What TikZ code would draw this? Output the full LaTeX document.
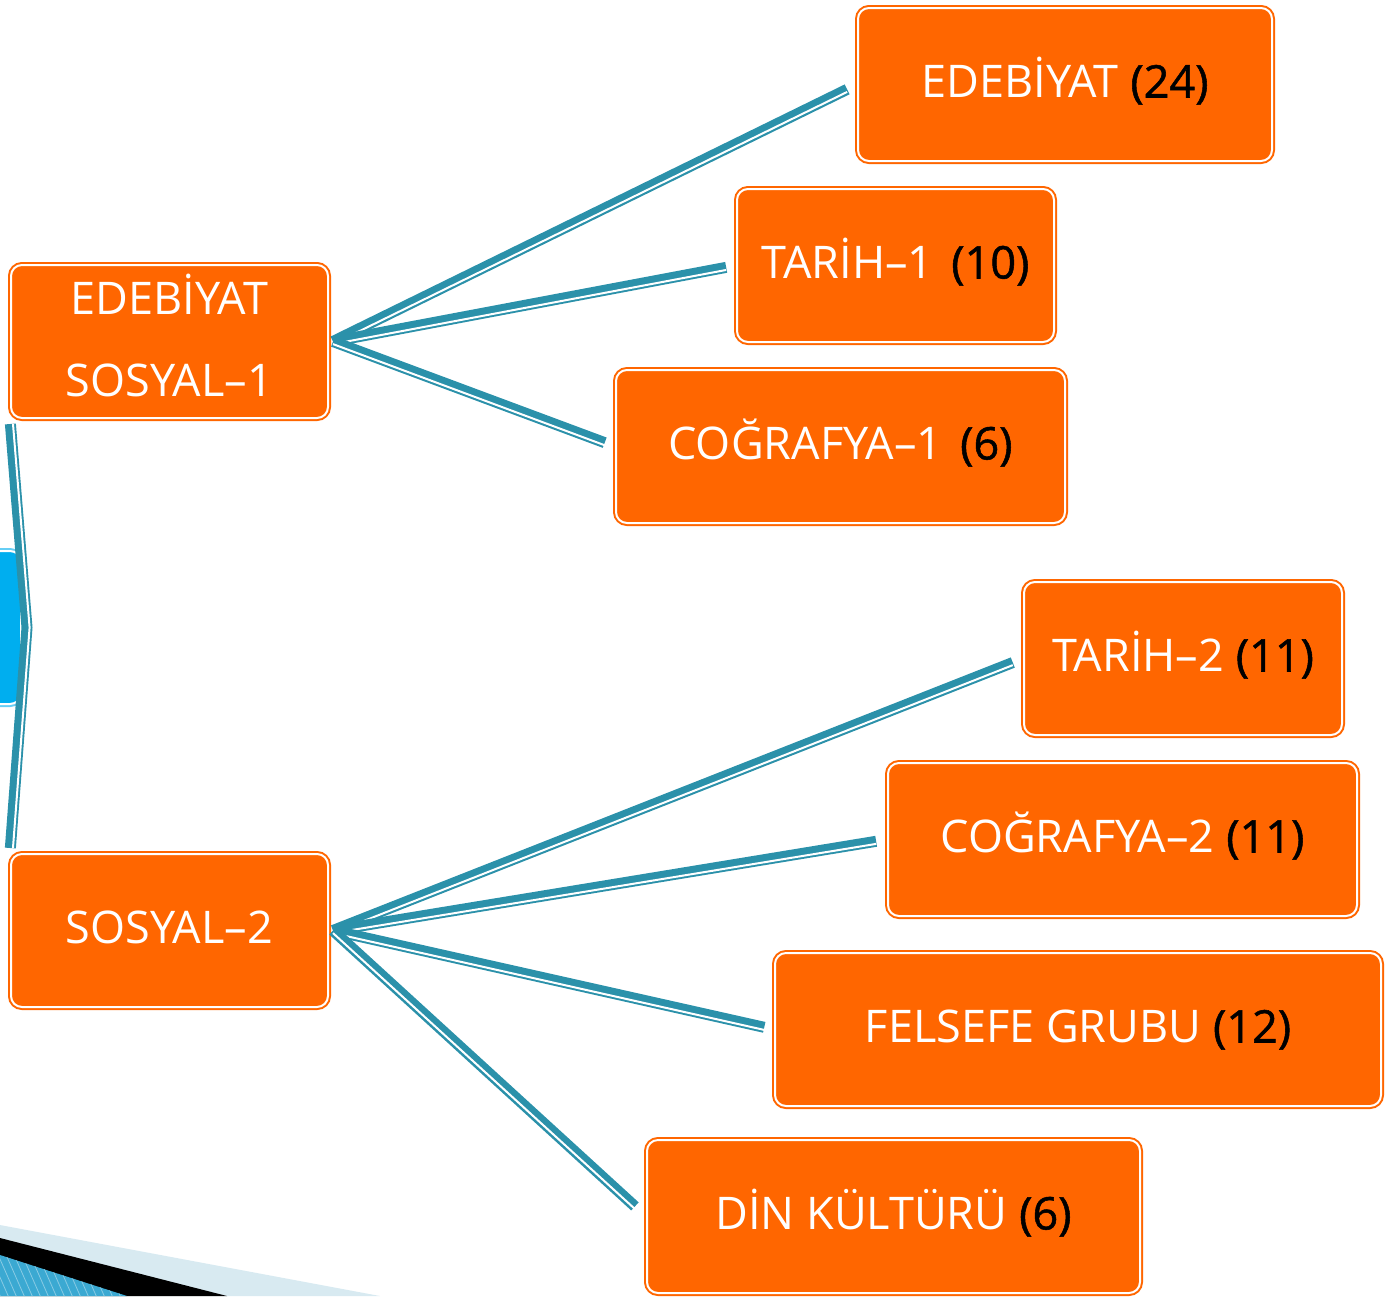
\documentclass[tikz,border=0pt]{standalone}
\usepackage{fontspec}
\setmainfont{Open Sans}
\newfontfamily\numfont[FakeBold=1.2]{Open Sans}
\definecolor{boxorange}{HTML}{FF6600}
\definecolor{linkteal}{HTML}{2B91AA}
\definecolor{hubblue}{HTML}{00AEEF}
\definecolor{bandlight}{HTML}{D8EAF1}
\definecolor{bandblue}{HTML}{3BA9D2}
\newcommand{\cnt}[1]{\textcolor{black}{\numfont(#1)}}
\tikzset{
  boxbase/.style={draw=white, line width=2, rounded corners=11,
    minimum height=153, text=white, inner sep=0, align=center,
    font=\fontsize{45}{82}\selectfont},
  hot/.style={boxbase, fill=boxorange, preaction={draw=boxorange, line width=6}},
  box/.style={hot, text height=32, text depth=6},
  hubbox/.style={boxbase, fill=hubblue, preaction={draw=hubblue!60, line width=6}},
  link/.style={draw=linkteal, line width=11,
    postaction={draw=white, line width=2, transform canvas={shift={#1}}}},
  link/.default={(0,2.6)}
}
\begin{document}
\begin{tikzpicture}[x=1pt, y=-1pt]
    \clip (0,0) rectangle (1386,1296);
    % corner band
    \fill[bandlight] (0,1225) -- (380,1296) -- (0,1296) -- cycle;
    \fill[black] (0,1238) -- (227,1296) -- (0,1296) -- cycle;
    \fill[bandblue] (0,1255) -- (127,1296) -- (0,1296) -- cycle;
    \begin{scope}
        \clip (0,1255) -- (127,1296) -- (0,1296) -- cycle;
        \foreach \s in {-20,-12,...,140}
            \draw[bandblue!60!white, line width=0.8] (\s,1250) -- (\s+22,1300);
    \end{scope}
    % groups
    \node[hubbox, minimum width=318] (hub) at (-138,627.5) {};
    \node[hot, minimum width=317] (soc1) at (169.5,341.5)
        {EDEBİYAT\\SOSYAL–1\rule[-13pt]{0pt}{0pt}};
    \node[box, minimum width=317] (soc2) at (169.5,930.5) {SOSYAL–2};
    % lessons
    \node[box, minimum width=414] (ede) at (1065,84.5) {EDEBİYAT \cnt{24}};
    \node[box, minimum width=317] (tar1) at (895.5,265.5) {TARİH–1\hspace{6pt} \cnt{10}};
    \node[box, minimum width=449] (cog1) at (840.5,446.5) {COĞRAFYA–1\hspace{6pt} \cnt{6}};
    \node[box, minimum width=318] (tar2) at (1183,658.5) {TARİH–2 \cnt{11}};
    \node[box, minimum width=469] (cog2) at (1122.5,839.5) {COĞRAFYA–2 \cnt{11}};
    \node[box, minimum width=606] (fel) at (1078,1029.5) {FELSEFE GRUBU \cnt{12}};
    \node[box, minimum width=493] (din) at (893.5,1216.5) {DİN KÜLTÜRÜ \cnt{6}};
    % connectors
    \draw[link={(2.6,0)}, shorten <=5, shorten >=5]
        (soc1.south west) -- ([xshift=5]hub.east) -- (soc2.north west);
    \draw[link, shorten >=11] ([xshift=4]soc1.east) -- (ede.west);
    \draw[link, shorten >=10] ([xshift=4]soc1.east) -- (tar1.west);
    \draw[link, shorten >=11] ([xshift=4]soc1.east) -- (cog1.west);
    \draw[link, shorten >=11] ([xshift=4]soc2.east) -- (tar2.west);
    \draw[link, shorten >=11] ([xshift=4]soc2.east) -- (cog2.west);
    \draw[link, shorten >=10] ([xshift=4]soc2.east) -- (fel.west);
    \draw[link, shorten >=15] ([xshift=4]soc2.east) -- (din.west);
\end{tikzpicture}
\end{document}
